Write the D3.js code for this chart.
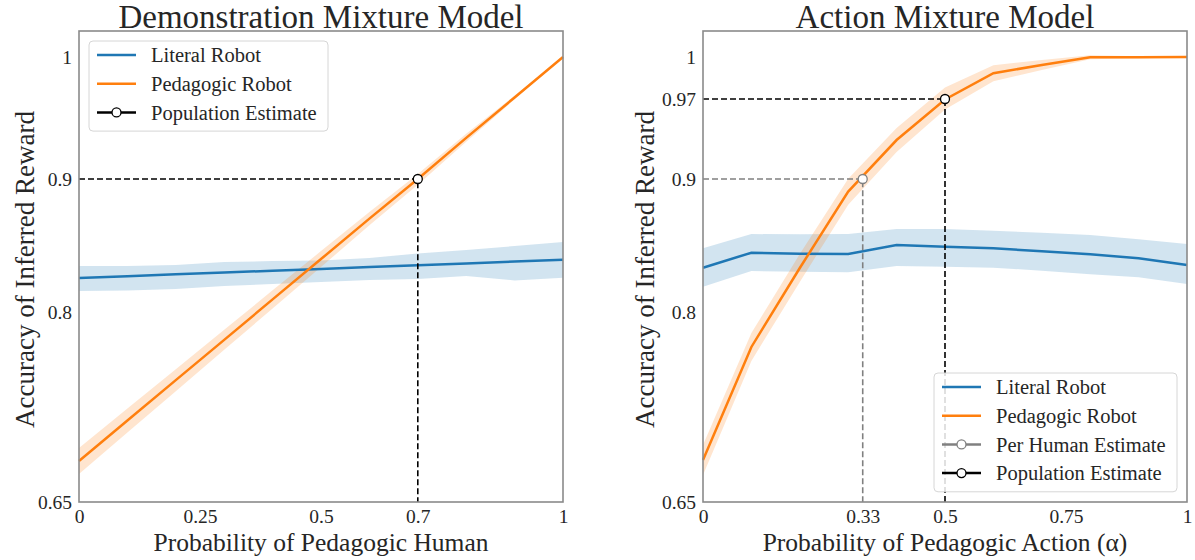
<!DOCTYPE html>
<html>
<head>
<meta charset="utf-8">
<script src="https://cdn.jsdelivr.net/npm/d3@7"></script>
<style>
  body { margin: 0; background: #fff; }
  svg text { font-family: "Liberation Serif", "DejaVu Serif", serif; fill: #262626; }
</style>
</head>
<body>
<div id="chart"></div>
<script>
// x positions shared by every series
const xs = [0, 0.1, 0.2, 0.3, 0.4, 0.5, 0.6, 0.7, 0.8, 0.9, 1];

// Demonstration mixture model
const demoLiteral      = [0.8255, 0.8269, 0.8283, 0.8297, 0.831, 0.8324, 0.8338, 0.8352, 0.8365, 0.8379, 0.8393];
const demoLiteralLow   = [0.8158, 0.8162, 0.8173, 0.8195, 0.8211, 0.8226, 0.8241, 0.8248, 0.8271, 0.8237, 0.8258];
const demoLiteralHigh  = [0.8346, 0.8346, 0.8353, 0.8376, 0.8383, 0.8387, 0.8406, 0.844, 0.8466, 0.8496, 0.8526];
const demoPedagogic    = [0.6824, 0.7143, 0.7462, 0.778, 0.8095, 0.8398, 0.8702, 0.9, 0.936, 0.9711, 1.0];
const demoPedagogicErr = [0.0103, 0.0095, 0.0087, 0.0079, 0.0068, 0.006, 0.0049, 0.0044, 0.0035, 0.0014, 0];

// Action mixture model
const actLiteral       = [0.8333, 0.8446, 0.8438, 0.8436, 0.8504, 0.8491, 0.8479, 0.8456, 0.8434, 0.8404, 0.8353];
const actLiteralLow    = [0.819, 0.8308, 0.8303, 0.8298, 0.8346, 0.8341, 0.8333, 0.8311, 0.8283, 0.8261, 0.8211];
const actLiteralHigh   = [0.8479, 0.8586, 0.8584, 0.8586, 0.8624, 0.8624, 0.8611, 0.8596, 0.8579, 0.8547, 0.8511];
const actPedagogic     = [0.6832, 0.7724, 0.8331, 0.8905, 0.9341, 0.9696, 0.9884, 0.9943, 0.9998, 0.9998, 1.0];
const actPedagogicErr  = [0.0118, 0.011, 0.0105, 0.0098, 0.0105, 0.0087, 0.0057, 0.0036, 0.0014, 0.0007, 0.0004];

// estimates: [x, y]
const demoPopulation = [0.7, 0.9];
const actPerHuman    = [0.33, 0.9];
const actPopulation  = [0.5, 0.97];

const xTicksDemo = [0, 0.25, 0.5, 0.7, 1];
const xTicksAct  = [0, 0.33, 0.5, 0.75, 1];
const yTicksDemo = [0.65, 0.8, 0.9, 1];
const yTicksAct  = [0.65, 0.8, 0.9, 0.97, 1];

const width = 1195, height = 560;
const svg = d3.select("#chart").append("svg").attr("width", width).attr("height", height);

const blue = "#1f77b4", orange = "#ff7f0e", spineColor = "#8a8a8a";

function fmt(d) { return String(d); }

function drawPanel(cfg) {
    const left = cfg.left, top = 31, w = 484, h = 471;
    const g = svg.append("g").attr("transform", `translate(${left},${top})`);

    const x = d3.scaleLinear().domain([0, 1]).range([0, w]);
    // the y axis of the original is not evenly spaced, so use a piecewise scale
    const y = d3.scaleLinear()
        .domain([0.65, 0.8, 0.9, 0.97, 1, 1.0186])
        .range([h, h - 190, h - 323, h - 403, h - 445, 0]);

    const lit = xs.map((d, i) => ({x: d, y: cfg.literal[i], lo: cfg.literalLow[i], hi: cfg.literalHigh[i]}));
    const ped = xs.map((d, i) => ({x: d, y: cfg.pedagogic[i], lo: cfg.pedagogic[i] - cfg.pedagogicErr[i], hi: cfg.pedagogic[i] + cfg.pedagogicErr[i]}));

    const area = d3.area().x(d => x(d.x)).y0(d => y(d.lo)).y1(d => y(d.hi));
    const line = d3.line().x(d => x(d.x)).y(d => y(d.y));

    g.append("path").attr("d", area(lit)).attr("fill", blue).attr("fill-opacity", 0.2);
    g.append("path").attr("d", area(ped)).attr("fill", orange).attr("fill-opacity", 0.2);
    g.append("path").attr("d", line(lit)).attr("fill", "none").attr("stroke", blue).attr("stroke-width", 2.5);
    g.append("path").attr("d", line(ped)).attr("fill", "none").attr("stroke", orange).attr("stroke-width", 2.5);

    // estimate guides
    cfg.estimates.forEach(e => {
        const [ex, ey] = e.point;
        g.append("path")
            .attr("d", `M${x(0)},${y(ey)}H${x(ex)}V${y(0.65)}`)
            .attr("fill", "none")
            .attr("stroke", e.color)
            .attr("stroke-width", 1.6)
            .attr("stroke-dasharray", "6,3");
    });
    cfg.estimates.forEach(e => {
        g.append("circle")
            .attr("cx", x(e.point[0])).attr("cy", y(e.point[1])).attr("r", 4.5)
            .attr("fill", "#fff").attr("stroke", e.color).attr("stroke-width", 1.3);
    });

    // axes without tick marks
    const xAxis = g.append("g").attr("transform", `translate(0,${h})`)
        .call(d3.axisBottom(x).tickValues(cfg.xTicks).tickFormat(fmt).tickSize(0).tickPadding(7));
    const yAxis = g.append("g")
        .call(d3.axisLeft(y).tickValues(cfg.yTicks).tickFormat(fmt).tickSize(0).tickPadding(7));
    [xAxis, yAxis].forEach(a => {
        a.select(".domain").remove();
        a.selectAll("text").attr("font-size", 19.5).attr("font-family", "Liberation Serif").attr("fill", "#262626");
    });

    g.append("rect").attr("width", w).attr("height", h)
        .attr("fill", "none").attr("stroke", spineColor).attr("stroke-width", 1.6);

    // titles
    g.append("text").attr("x", w / 2).attr("y", -3).attr("text-anchor", "middle")
        .attr("font-size", 33).text(cfg.title);
    g.append("text").attr("x", w / 2).attr("y", h + 49).attr("text-anchor", "middle")
        .attr("font-size", 25.5).text(cfg.xLabel);
    g.append("text").attr("transform", `translate(${cfg.yLabelX},${h / 2 + 3}) rotate(-90)`)
        .attr("text-anchor", "middle").attr("font-size", 27).text("Accuracy of Inferred Reward");

    // legend
    const L = cfg.legend;
    const lg = g.append("g").attr("transform", `translate(${L.x},${L.y})`);
    lg.append("rect").attr("width", L.w).attr("height", L.items.length * 28.7 + 4)
        .attr("rx", 4).attr("fill", "#fff").attr("fill-opacity", 0.85)
        .attr("stroke", "#d6d6d6").attr("stroke-width", 1);
    L.items.forEach((it, i) => {
        const yy = 14 + i * 28.7;
        lg.append("line").attr("x1", 8).attr("x2", 47).attr("y1", yy).attr("y2", yy)
            .attr("stroke", it.color).attr("stroke-width", 2.5);
        if (it.marker) {
            lg.append("circle").attr("cx", 27.5).attr("cy", yy).attr("r", 4.5)
                .attr("fill", "#fff").attr("stroke", it.color).attr("stroke-width", 1.3);
        }
        lg.append("text").attr("x", 62).attr("y", yy).attr("dy", "0.35em")
            .attr("font-size", 20.5).text(it.label);
    });
}

drawPanel({
    left: 79,
    title: "Demonstration Mixture Model",
    xLabel: "Probability of Pedagogic Human",
    yLabelX: -45,
    literal: demoLiteral, literalLow: demoLiteralLow, literalHigh: demoLiteralHigh,
    pedagogic: demoPedagogic, pedagogicErr: demoPedagogicErr,
    estimates: [{point: demoPopulation, color: "#000"}],
    xTicks: xTicksDemo, yTicks: yTicksDemo,
    legend: {x: 10, y: 10, w: 239, items: [
        {label: "Literal Robot", color: blue},
        {label: "Pedagogic Robot", color: orange},
        {label: "Population Estimate", color: "#000", marker: true}
    ]}
});

drawPanel({
    left: 703,
    title: "Action Mixture Model",
    xLabel: "Probability of Pedagogic Action (\u03B1)",
    yLabelX: -49,
    literal: actLiteral, literalLow: actLiteralLow, literalHigh: actLiteralHigh,
    pedagogic: actPedagogic, pedagogicErr: actPedagogicErr,
    estimates: [{point: actPerHuman, color: "#808080"}, {point: actPopulation, color: "#000"}],
    xTicks: xTicksAct, yTicks: yTicksAct,
    legend: {x: 231, y: 342, w: 243, items: [
        {label: "Literal Robot", color: blue},
        {label: "Pedagogic Robot", color: orange},
        {label: "Per Human Estimate", color: "#808080", marker: true},
        {label: "Population Estimate", color: "#000", marker: true}
    ]}
});
</script>
</body>
</html>
